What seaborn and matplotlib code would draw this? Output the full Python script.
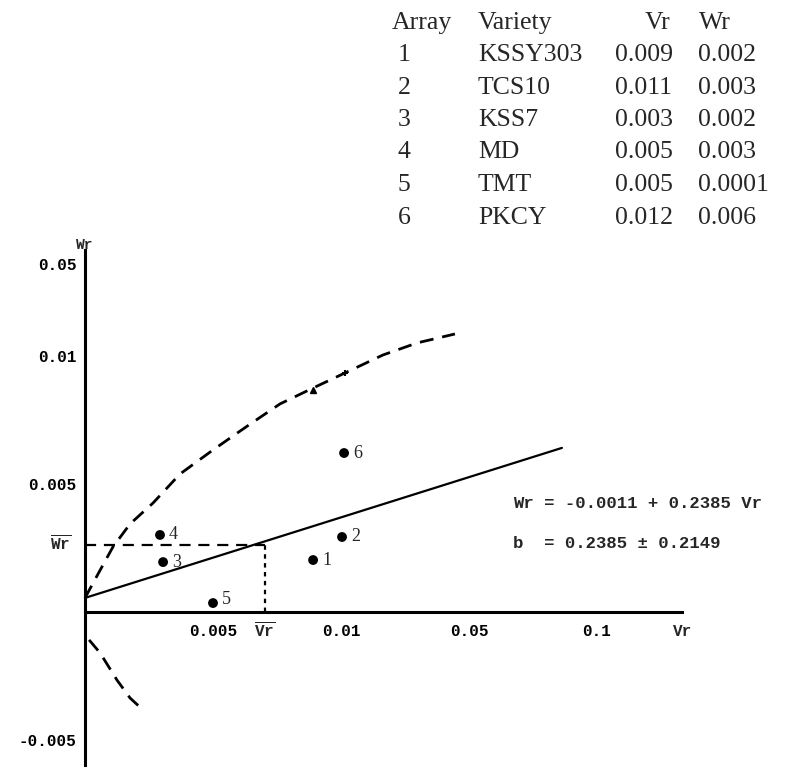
import matplotlib.pyplot as plt
import seaborn as sns

# table as printed at the top right
arrays = ['1', '2', '3', '4', '5', '6']
varieties = ['KSSY303', 'TCS10', 'KSS7', 'MD', 'TMT', 'PKCY']
vr_table = ['0.009', '0.011', '0.003', '0.005', '0.005', '0.012']
wr_table = ['0.002', '0.003', '0.002', '0.003', '0.0001', '0.006']

# array points where they sit on the drawing
vr_pts = [0.00891, 0.01004, 0.00305, 0.00293, 0.00500, 0.01012]
wr_pts = [0.00203, 0.00293, 0.00195, 0.00301, 0.00035, 0.00621]

# limiting parabola
par_up_vr = [0.0, 0.00055, 0.00109, 0.00176, 0.00266, 0.00371, 0.0050,
             0.00645, 0.00762, 0.00891, 0.01016, 0.01164, 0.01297, 0.01445]
par_up_wr = [0.00055, 0.00156, 0.00254, 0.00344, 0.00426, 0.00539, 0.00633,
             0.00734, 0.00813, 0.00875, 0.00934, 0.01004, 0.01051, 0.01086]
par_lo_vr = [0.00016, 0.00059, 0.00125, 0.00176, 0.00227]
par_lo_wr = [-0.00109, -0.00160, -0.00266, -0.00336, -0.00383]

# regression line and means
reg_vr = [0.0, 0.01863]
reg_wr = [0.00055, 0.00641]
vr_mean = 0.00703
wr_mean = 0.00262

x_ticks = [0.005, 0.01, 0.015, 0.02]
x_labels = ['0.005', '0.01', '0.05', '0.1']
y_ticks = [-0.005, 0.005, 0.01, 0.0136]
y_labels = ['-0.005', '0.005', '0.01', '0.05']

sns.set_theme(style='white')
plt.rcParams['font.family'] = ['Liberation Mono', 'DejaVu Sans']
plt.rcParams['font.weight'] = 'bold'
plt.rcParams['mathtext.fontset'] = 'custom'
plt.rcParams['mathtext.rm'] = 'Liberation Mono:bold'

W, H = 793, 772
u = 0.005 / 128  # data units per pixel
fig = plt.figure(figsize=(W / 100, H / 100), dpi=100)
ax = fig.add_axes([0, 0, 1, 1])
ax.set_xlim(-85 * u, (W - 85) * u)
ax.set_ylim(-(H - 612) * u, 612 * u)

# axes through the origin
for s in ['top', 'right']:
    ax.spines[s].set_visible(False)
ax.spines['left'].set_position(('data', 0))
ax.spines['bottom'].set_position(('data', 0))
ax.spines['left'].set_bounds(-153 * u, 362 * u)
ax.spines['bottom'].set_bounds(0, 597 * u)
for s in ['left', 'bottom']:
    ax.spines[s].set_linewidth(2.2)
    ax.spines[s].set_color('black')

ax.set_xticks(x_ticks)
ax.set_xticklabels(x_labels)
ax.set_yticks(y_ticks)
ax.set_yticklabels(y_labels)
ax.tick_params(axis='both', direction='inout', length=6, width=1.4,
               colors='black', labelsize=11.5)
ax.tick_params(axis='x', pad=6)
ax.tick_params(axis='y', pad=3)
ax.grid(False)

# limiting parabola
sns.lineplot(x=par_up_vr, y=par_up_wr, sort=False, estimator=None, ax=ax,
             color='black', lw=2, linestyle=(0, (5, 3.2)))
sns.lineplot(x=par_lo_vr, y=par_lo_wr, sort=False, estimator=None, ax=ax,
             color='black', lw=2, linestyle=(0, (5, 3.2)))
ax.plot([0.00891], [0.00867], marker='^', ms=5, color='black')
ax.plot([0.01016], [0.00934], marker='+', ms=5, mew=1.5, color='black')

# regression line
sns.lineplot(x=reg_vr, y=reg_wr, ax=ax, color='black', lw=1.6)

# mean lines
ax.plot([0, vr_mean], [wr_mean, wr_mean], color='black', lw=1.6,
        linestyle=(0, (5, 3.5)))
ax.plot([vr_mean, vr_mean], [0, wr_mean], color='black', lw=1.6,
        linestyle=(0, (2, 2)))

# array points
sns.scatterplot(x=vr_pts, y=wr_pts, ax=ax, color='black', s=50,
                edgecolor='none', zorder=5)
for i, (x, y) in enumerate(zip(vr_pts, wr_pts)):
    dy = 0.00012 if i == 4 else 0.0
    ax.text(x + 9 * u, y + dy, arrays[i], fontsize=13, va='center',
            ha='left', family='Liberation Serif', fontweight='normal')

# axis names and mean labels
ax.text(0, 360 * u, 'Wr', fontsize=10.5, ha='center', va='bottom')
ax.text(598 * u, -12 * u, 'Vr', fontsize=11.5, ha='center', va='top')
ax.text(vr_mean, -10 * u, r'$\overline{\mathrm{Vr}}$', fontsize=11.5,
        ha='center', va='top')
ax.text(-14 * u, wr_mean, r'$\overline{\mathrm{Wr}}$', fontsize=11.5,
        ha='right', va='center')

# regression equation
ax.text(428 * u, 109 * u, 'Wr = -0.0011 + 0.2385 Vr', fontsize=12.4,
        ha='left', va='center')
ax.text(428 * u, 69 * u, 'b  = 0.2385 \u00b1 0.2149', fontsize=12.4,
        ha='left', va='center')

# table (positions in figure pixels from the top-left)
tkw = dict(va='center', family='Liberation Serif', fontweight='normal',
           fontsize=18.5)
head_y = 1 - 23 / H
fig.text(392 / W, head_y, 'Array', ha='left', **tkw)
fig.text(478 / W, head_y, 'Variety', ha='left', **tkw)
fig.text(658 / W, head_y, 'Vr', ha='center', **tkw)
fig.text(715 / W, head_y, 'Wr', ha='center', **tkw)
for i in range(len(arrays)):
    yy = 1 - (55 + 32.5 * i) / H
    fig.text(404 / W, yy, arrays[i], ha='center', **tkw)
    fig.text(478 / W, yy, varieties[i], ha='left', **tkw)
    fig.text(615 / W, yy, vr_table[i], ha='left', **tkw)
    fig.text(698 / W, yy, wr_table[i], ha='left', **tkw)

fig.savefig('out.png', dpi=100)
